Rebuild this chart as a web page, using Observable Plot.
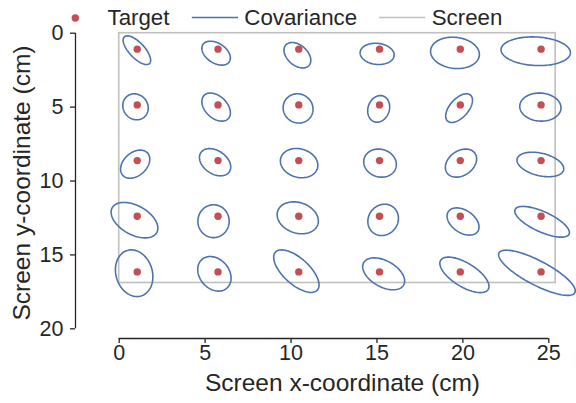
<!DOCTYPE html>
<html>
<head>
<meta charset="utf-8">
<script src="https://cdn.jsdelivr.net/npm/d3@7"></script>
<script src="https://cdn.jsdelivr.net/npm/@observablehq/plot@0.6"></script>
<style>
  html, body { margin: 0; padding: 0; background: #fff; }
  body { width: 576px; height: 403px; overflow: hidden; font-family: "Liberation Sans", Arial, sans-serif; }
  #legend svg, #chart svg { display: block; }
</style>
</head>
<body>
<div id="legend"></div>
<div id="chart"></div>
<script>
// ---- data ----
const targetX = [1.05, 5.75, 10.45, 15.15, 19.85, 24.55];
const targetY = [1.08, 4.85, 8.62, 12.38, 16.15];

// covariance ellipses, row-major (5 rows x 6 columns)
const covCx = [1.03, 5.64, 10.37, 15.01, 19.54, 24.24,
               0.95, 5.64, 10.41, 15.10, 19.78, 24.51,
               0.93, 5.58, 10.47, 15.18, 19.89, 24.51,
               0.89, 5.49, 10.39, 15.36, 20.01, 24.61,
               0.87, 5.54, 10.31, 15.39, 20.09, 24.31];
const covCy = [1.15, 1.35, 1.49, 1.40, 1.33, 1.22,
               4.98, 5.00, 5.09, 5.12, 5.07, 5.00,
               8.86, 8.73, 8.79, 8.79, 8.79, 8.88,
               12.65, 12.72, 12.49, 12.63, 12.74, 12.76,
               16.24, 16.28, 16.10, 16.28, 16.35, 16.21];
const covSx = [0.80, 0.83, 0.78, 0.99, 1.42, 2.02,
               0.74, 0.83, 0.87, 0.64, 0.78, 1.20,
               0.85, 0.91, 1.09, 0.95, 0.91, 1.36,
               1.36, 0.91, 1.20, 0.89, 0.93, 1.59,
               1.09, 0.97, 1.32, 1.22, 1.43, 2.23];
const covSy = [0.97, 0.81, 0.86, 0.72, 1.06, 0.97,
               0.88, 0.95, 0.99, 0.90, 0.97, 0.95,
               0.95, 0.92, 0.99, 0.95, 0.95, 0.83,
               1.20, 1.11, 1.08, 1.06, 0.92, 1.04,
               1.58, 1.17, 1.44, 1.08, 1.20, 1.53];
const covRho = [0.70, 0.40, 0.40, 0.10, 0.10, 0.10,
                0.10, 0.40, 0.05, -0.15, -0.55, 0.05,
                -0.35, 0.35, 0.15, 0.10, -0.30, 0.35,
                0.45, 0.00, 0.20, -0.10, 0.40, 0.70,
                0.15, 0.25, 0.65, 0.45, 0.65, 0.80];

const screenW = 25.4, screenH = 16.9;
const xTicks = [0, 5, 10, 15, 20, 25];
const yTicks = [0, 5, 10, 15, 20];
const legendLabels = ["Target", "Covariance", "Screen"];

// ---- derived tables ----
const targets = [];
for (const y of targetY) for (const x of targetX) targets.push({x, y});

const ellipsePts = [];
const N = 120;
covCx.forEach((cx, i) => {
  const cy = covCy[i], sx = covSx[i], sy = covSy[i], r = covRho[i];
  const q = Math.sqrt(1 - r * r);
  for (let k = 0; k <= N; k++) {
    const t = (2 * Math.PI * k) / N;
    ellipsePts.push({id: i, x: cx + sx * Math.cos(t), y: cy + sy * (r * Math.cos(t) + q * Math.sin(t))});
  }
});

const BLUE = "#4c72b0", RED = "#c44e52", GRAY = "#c0c0c0", INK = "#262626";
const FONT = "'Liberation Sans', Arial, sans-serif";

// ---- legend ----
const lg = d3.select("#legend").append("svg").attr("width", 576).attr("height", 30)
  .style("font-family", FONT).style("font-size", "22.3px").style("fill", INK);
lg.append("circle").attr("cx", 75.3).attr("cy", 18).attr("r", 3.7).attr("fill", RED);
lg.append("line").attr("x1", 191.8).attr("x2", 238).attr("y1", 17.5).attr("y2", 17.5)
  .attr("stroke", BLUE).attr("stroke-width", 1.6);
lg.append("line").attr("x1", 379).attr("x2", 425.4).attr("y1", 17.5).attr("y2", 17.5)
  .attr("stroke", GRAY).attr("stroke-width", 1.6);
[[107.5, legendLabels[0]], [244.3, legendLabels[1]], [431.7, legendLabels[2]]].forEach(([x, t]) => {
  lg.append("text").attr("x", x).attr("y", 25).text(t);
});

// ---- chart ----
const chart = Plot.plot({
  width: 576,
  height: 373,
  marginTop: 2.7,
  marginBottom: 74.7,
  marginLeft: 118.7,
  marginRight: 27.7,
  style: {fontFamily: FONT, color: INK, background: "transparent", overflow: "visible"},
  x: {domain: [0, 25]},
  y: {domain: [0, 20], reverse: true},
  marks: [
    Plot.rect([{x1: 0, x2: screenW, y1: 0, y2: screenH}],
      {x1: "x1", x2: "x2", y1: "y1", y2: "y2", fill: "none", stroke: GRAY, strokeWidth: 1.6}),
    Plot.line(ellipsePts, {x: "x", y: "y", z: "id", stroke: BLUE, strokeWidth: 1.6, curve: "linear"}),
    Plot.dot(targets, {x: "x", y: "y", r: 3.7, fill: RED, stroke: "none"}),
    // offset, trimmed spines
    Plot.ruleX([{x: 0, y1: yTicks[0], y2: yTicks[yTicks.length - 1]}],
      {x: "x", y1: "y1", y2: "y2", dx: -43.7, stroke: INK, strokeWidth: 1.3}),
    Plot.ruleY([{y: 20, x1: xTicks[0], x2: xTicks[xTicks.length - 1]}],
      {y: "y", x1: "x1", x2: "x2", dy: 9.7, stroke: INK, strokeWidth: 1.3}),
    Plot.axisY({anchor: "left", ticks: yTicks, tickFormat: d => String(d), tickSize: 5, tickPadding: 7,
      dx: -43.7, fontSize: 21.5, label: null, stroke: INK, strokeWidth: 1.3, fill: INK}),
    Plot.axisX({anchor: "bottom", ticks: xTicks, tickFormat: d => String(d), tickSize: 5, tickPadding: 1,
      dy: 9.7, fontSize: 21.5, label: null, stroke: INK, strokeWidth: 1.3, fill: INK}),
    Plot.text(["Screen x-coordinate (cm)"], {frameAnchor: "bottom", dx: 8.5, dy: 54.7,
      fontSize: 24.5, fill: INK, textAnchor: "middle", lineAnchor: "middle"}),
    Plot.text(["Screen y-coordinate (cm)"], {frameAnchor: "left", dx: -96.7, dy: 2,
      rotate: -90, fontSize: 24.5, fill: INK, textAnchor: "middle", lineAnchor: "middle"})
  ]
});
document.getElementById("chart").appendChild(chart);
</script>
</body>
</html>
